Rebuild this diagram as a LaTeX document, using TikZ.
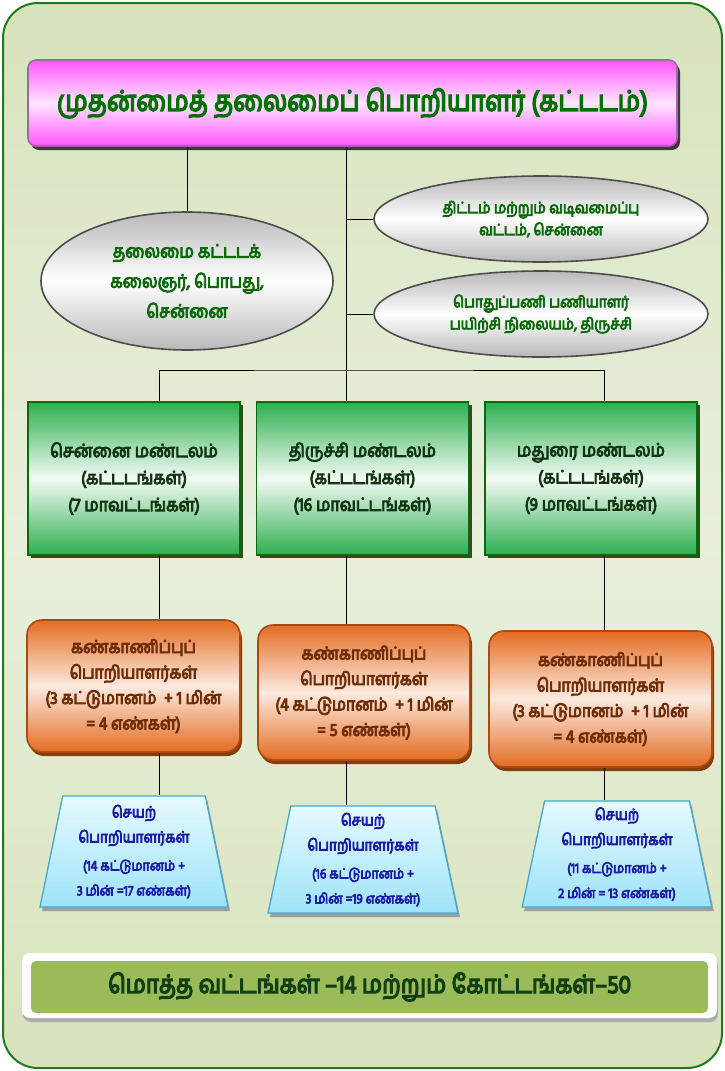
\documentclass[tikz,border=0pt]{standalone}
\usepackage{fontspec}
\newfontfamily\ta[Script=Tamil, FakeBold=5, FakeStretch=0.88]{Hind Madurai}
\usetikzlibrary{shapes.geometric,shadows}
\definecolor{frameG}{HTML}{1E7B1E}
\definecolor{bgA}{HTML}{D7E3BC}
\definecolor{bgB}{HTML}{E8F0DC}
\definecolor{pinkA}{HTML}{FF55FF}
\definecolor{pinkB}{HTML}{FFE6FF}
\definecolor{pinkBorder}{HTML}{9A6AA6}
\definecolor{pinkShadow}{HTML}{4A2F4A}
\definecolor{titleT}{HTML}{007000}
\definecolor{ellT}{HTML}{0B6B0B}
\definecolor{ellB}{HTML}{4D4D4D}
\definecolor{grnA}{HTML}{2DAE4F}
\definecolor{grnB}{HTML}{F4FBF5}
\definecolor{grnBorder}{HTML}{0A6A0A}
\definecolor{grnShadow}{HTML}{2F4F1F}
\definecolor{grnT}{HTML}{123612}
\definecolor{orA}{HTML}{E46C22}
\definecolor{orB}{HTML}{FCEAE0}
\definecolor{orBorder}{HTML}{A94A12}
\definecolor{orShadow}{HTML}{8A3C05}
\definecolor{orT}{HTML}{6E2E08}
\definecolor{cyA}{HTML}{E6FAFF}
\definecolor{cyB}{HTML}{9DE3F8}
\definecolor{cyBorder}{HTML}{46A9C9}
\definecolor{cyT}{HTML}{1C1CA6}
\definecolor{barG}{HTML}{9BBB59}
\definecolor{barT}{HTML}{113F11}
\begin{document}
\begin{tikzpicture}[x=1pt,y=-1pt,
  conn/.style={draw=black, line width=0.9pt},
  titlebox/.style={rectangle, rounded corners=8pt, draw=pinkBorder, line width=1.6pt,
    top color=pinkA, bottom color=pinkA, middle color=pinkB,
    general shadow={fill=pinkShadow, shadow xshift=3pt, shadow yshift=-4pt},
    minimum width=649pt, minimum height=86pt, text=titleT,
    font=\ta\fontsize{28.5}{30}\selectfont},
  ellbox/.style={ellipse, draw=ellB, line width=1.6pt, inner sep=0pt,
    top color=gray!55, bottom color=gray!55, middle color=white,
    text=ellT, align=center},
  gbox/.style={rectangle, draw=grnBorder, line width=1.8pt,
    top color=grnA, bottom color=grnA, middle color=grnB,
    general shadow={fill=grnShadow, shadow xshift=3pt, shadow yshift=-3pt},
    minimum width=212pt, minimum height=153pt, text=grnT, align=center,
    font=\ta\fontsize{18.3}{27}\selectfont},
  obox/.style={rectangle, rounded corners=15pt, draw=orBorder, line width=1.6pt,
    top color=orA, bottom color=orA, middle color=orB,
    general shadow={fill=orShadow, shadow xshift=2pt, shadow yshift=-4pt},
    text=orT, align=center, font=\ta\fontsize{17.8}{25.5}\selectfont},
  tbox/.style={trapezium, trapezium stretches=true, trapezium left angle=79,
    trapezium right angle=79, draw=cyBorder, line width=1.3pt,
    top color=cyA, bottom color=cyB,
    general shadow={fill=gray!75, shadow xshift=2pt, shadow yshift=-4pt},
    text=cyT, align=center, inner sep=0pt, font=\ta\fontsize{15.5}{25}\selectfont}
]
\useasboundingbox (0,0) rectangle (725,1071);
\draw[frameG, line width=2pt, rounded corners=35pt, top color=bgA, bottom color=bgA, middle color=bgB] (3,3) rectangle (722,1068);

\node[titlebox] (title) at (352.5,103) {முதன்மைத் தலைமைப் பொறியாளர் (கட்டடம்)};

\node[ellbox, minimum width=292pt, minimum height=138pt, font=\ta\fontsize{18.4}{30}\selectfont] (el) at (187,281) {தலைமை கட்டடக்\\கலைஞர், பொபது,\\சென்னை};
\node[ellbox, minimum width=334pt, minimum height=86pt, font=\ta\fontsize{15.7}{22}\selectfont] (er1) at (541,219) {திட்டம் மற்றும் வடிவமைப்பு\\வட்டம், சென்னை};
\node[ellbox, minimum width=334pt, minimum height=86pt, font=\ta\fontsize{15.7}{22}\selectfont] (er2) at (541,314) {பொதுப்பணி பணியாளர்\\பயிற்சி நிலையம், திருச்சி};

\node[gbox] (g1) at (134,478.5) {சென்னை மண்டலம்\\(கட்டடங்கள்)\\(7 மாவட்டங்கள்)};
\node[gbox] (g2) at (362.5,478.5) {திருச்சி மண்டலம்\\(கட்டடங்கள்)\\(16 மாவட்டங்கள்)};
\node[gbox] (g3) at (591,478.5) {மதுரை மண்டலம்\\(கட்டடங்கள்)\\(9 மாவட்டங்கள்)};

\node[obox, minimum width=213pt, minimum height=132pt] (o1) at (133.5,686) {கண்காணிப்புப்\\பொறியாளர்கள்\\(3 கட்டுமானம்\ \ + 1 மின்\\= 4 எண்கள்)};
\node[obox, minimum width=212pt, minimum height=135pt] (o2) at (364,692.5) {கண்காணிப்புப்\\பொறியாளர்கள்\\(4 கட்டுமானம்\ \ + 1 மின்\\= 5 எண்கள்)};
\node[obox, minimum width=223pt, minimum height=136pt] (o3) at (600.5,699) {கண்காணிப்புப்\\பொறியாளர்கள்\\(3 கட்டுமானம்\ \ + 1 மின்\\= 4 எண்கள்)};

\node[tbox, minimum width=188pt, minimum height=111pt] (t1) at (134,851.5) {செயற்\\பொறியாளர்கள்\\[3pt]{\ta\fontsize{14}{19}\selectfont (14 கட்டுமானம் +}\\{\ta\fontsize{14}{19}\selectfont 3 மின் =17 எண்கள்)}};
\node[tbox, minimum width=190pt, minimum height=107pt] (t2) at (363,859.5) {செயற்\\பொறியாளர்கள்\\[3pt]{\ta\fontsize{14}{19}\selectfont (16 கட்டுமானம் +}\\{\ta\fontsize{14}{19}\selectfont 3 மின் =19 எண்கள்)}};
\node[tbox, minimum width=190pt, minimum height=106pt] (t3) at (617,854) {செயற்\\பொறியாளர்கள்\\[3pt]{\ta\fontsize{14}{19}\selectfont (11 கட்டுமானம் +}\\{\ta\fontsize{14}{19}\selectfont 2 மின் = 13 எண்கள்)}};

\node[fill=white, rounded corners=8pt, minimum width=695pt, minimum height=65pt,
  general shadow={fill=gray!65, shadow xshift=1pt, shadow yshift=-4pt}] (barout) at (369.5,985.5) {};
\node[fill=barG, rounded corners=5pt, minimum width=677pt, minimum height=52pt, text=barT,
  font=\ta\fontsize{25.5}{27}\selectfont] (bar) at (369.5,987) {மொத்த வட்டங்கள் –14 மற்றும் கோட்டங்கள்–50};

\coordinate (L1) at (159,370);
\coordinate (L2) at (346,370);
\coordinate (L3) at (604,370);
\draw[conn] (title.south -| el.north) -- (el.north);
\draw[conn] (title.south -| L2) -- (g2.north -| L2);
\draw[conn] (er1.west -| L2) -- (er1.west);
\draw[conn] (er2.west -| L2) -- (er2.west);
\draw[conn] (g1.north -| L1) |- (L2) -| (g3.north -| L3);
\draw[conn] (g1.south -| L1) -- (o1.north -| L1);
\draw[conn] (g2.south -| L2) -- (o2.north -| L2);
\draw[conn] (g3.south -| L3) -- (o3.north -| L3);
\draw[conn] (o1.south -| L1) -- (t1.north -| L1);
\draw[conn] (o2.south -| L2) -- (t2.north -| L2);
\draw[conn] (o3.south -| L3) -- (t3.north -| L3);
\end{tikzpicture}
\end{document}
